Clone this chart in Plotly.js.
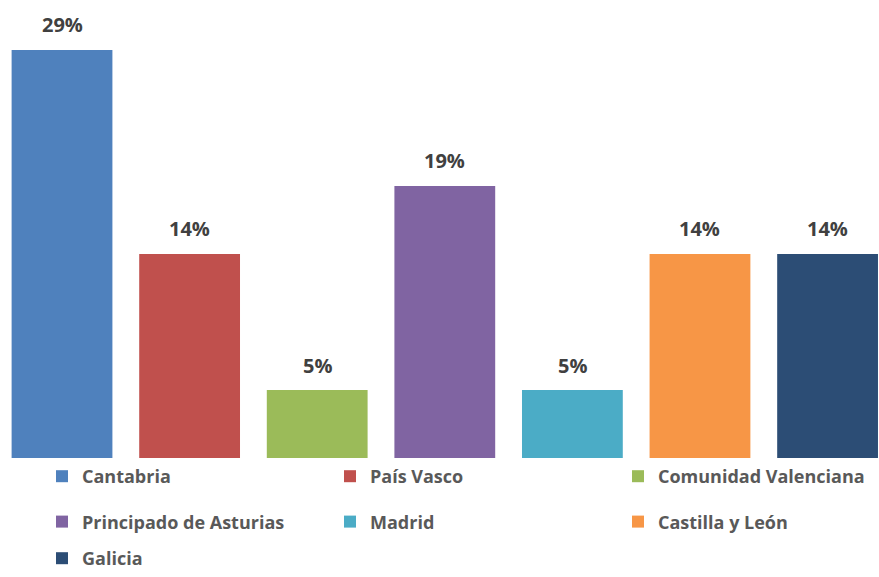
<!DOCTYPE html>
<html>
<head>
<meta charset="utf-8">
<script src="https://cdn.plot.ly/plotly-3.0.1.min.js"></script>
<style>html,body{margin:0;padding:0;background:#fff;}#chart{width:879px;height:577px;}</style>
</head>
<body>
<div id="chart"></div>
<script>
const regions = ['Cantabria', 'País Vasco', 'Comunidad Valenciana', 'Principado de Asturias', 'Madrid', 'Castilla y León', 'Galicia'];
const shares = [28.57, 14.29, 4.76, 19.05, 4.76, 14.29, 14.29];
const colors = ['#4F81BD', '#C0504D', '#9BBB59', '#8064A2', '#4BACC6', '#F79646', '#2C4D75'];
// legend blocks (Excel-like 3-column legend, filled row by row)
const legendColumn = ['legend', 'legend2', 'legend3', 'legend', 'legend2', 'legend3', 'legend4'];

const traces = regions.map((name, i) => ({
  type: 'bar',
  name: name,
  x: [i],
  y: [shares[i]],
  width: 0.79,
  marker: {color: colors[i]},
  legend: legendColumn[i],
  legendgroup: 'g' + i,
  hoverinfo: 'none'
}));

const annotations = regions.map((name, i) => ({
  x: i, y: shares[i], xref: 'x', yref: 'y',
  text: Math.round(shares[i]) + '%',
  showarrow: false, yanchor: 'middle', yshift: 25,
  font: {family: 'Open Sans', size: 20, weight: 'bold', color: '#404040'}
}));

function legendAt(xpx, ytop, anchor) {
  return {
    orientation: 'v', xref: 'container', yref: 'container',
    x: xpx / 879, y: ytop, xanchor: 'left', yanchor: anchor,
    tracegroupgap: 19,
    font: {family: 'Open Sans', size: 18, weight: 'bold', color: '#595959'},
    bgcolor: 'rgba(0,0,0,0)', traceorder: 'grouped'
  };
}

const layout = {
  width: 879, height: 577,
  margin: {l: 0, r: 0, t: 20, b: 119, autoexpand: false},
  paper_bgcolor: '#ffffff', plot_bgcolor: '#ffffff',
  barmode: 'overlay',
  showlegend: true,
  xaxis: {range: [-0.486, 6.403], visible: false, fixedrange: true},
  yaxis: {range: [0, 30.67], visible: false, fixedrange: true},
  legend: legendAt(42, 1 - 458 / 577, 'top'),
  legend2: legendAt(330, 1 - 458 / 577, 'top'),
  legend3: legendAt(618, 1 - 458 / 577, 'top'),
  legend4: legendAt(42, 0, 'bottom'),
  annotations: annotations
};

Plotly.newPlot('chart', traces, layout, {displayModeBar: false, staticPlot: true});
</script>
</body>
</html>
